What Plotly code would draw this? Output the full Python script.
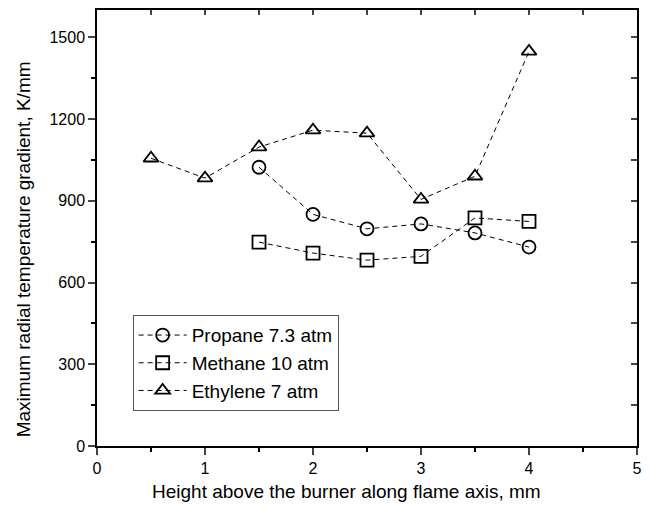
import plotly.graph_objects as go

propane_x = [1.5, 2, 2.5, 3, 3.5, 4]
propane_y = [1023, 850, 797, 815, 782, 730]
methane_x = [1.5, 2, 2.5, 3, 3.5, 4]
methane_y = [748, 708, 682, 696, 837, 824]
ethylene_x = [0.5, 1, 1.5, 2, 2.5, 3, 3.5, 4]
ethylene_y = [1056, 983, 1097, 1159, 1148, 905, 990, 1448]

names = ["Propane 7.3 atm", "Methane 10 atm", "Ethylene 7 atm"]
symbols = ["circle-open", "square-open", "triangle-up-open"]
x_title = "Height above the burner along flame axis, mm"
y_title = "Maximum radial temperature gradient, K/mm"

fig = go.Figure()
for xs, ys, nm, sym in zip([propane_x, methane_x, ethylene_x],
                           [propane_y, methane_y, ethylene_y], names, symbols):
    fig.add_trace(go.Scatter(
        x=xs, y=ys, name=nm, mode="lines+markers",
        line=dict(color="black", width=1, dash="5px,4px"),
        marker=dict(symbol=sym, size=13, color="black", line=dict(color="black", width=1.8)),
    ))

# invisible trace for mirrored axes
fig.add_trace(go.Scatter(x=[0], y=[0], xaxis="x2", yaxis="y2", showlegend=False,
                         mode="markers", marker=dict(opacity=0), hoverinfo="skip"))

font = "Liberation Sans, Arial, sans-serif"
fig.update_layout(
    width=652, height=511,
    margin=dict(l=97, r=12, t=10, b=65),
    paper_bgcolor="white", plot_bgcolor="white",
    font=dict(family=font, size=16, color="black"),
    xaxis=dict(range=[0, 5], dtick=1, ticks="outside", ticklen=7, tickwidth=1.5,
               showline=True, linecolor="black", linewidth=1.5, showgrid=False, zeroline=False,
               minor=dict(dtick=0.5, ticks="outside", ticklen=4, tickwidth=1.5, tickcolor="black"),
               tickfont=dict(size=16)),
    yaxis=dict(range=[0, 1600], tickvals=[0, 300, 600, 900, 1200, 1500], ticks="outside", ticklen=7, tickwidth=1.5,
               showline=True, linecolor="black", linewidth=1.5, showgrid=False, zeroline=False,
               minor=dict(tickvals=[150, 450, 750, 1050, 1350], ticks="outside", ticklen=4, tickwidth=1.5, tickcolor="black"),
               tickfont=dict(size=16)),
    xaxis2=dict(range=[0, 5], overlaying="x", side="top", dtick=0.5, ticks="inside", ticklen=5, tickwidth=1.5,
                showticklabels=False, showline=True, linecolor="black", linewidth=1.5, showgrid=False, zeroline=False),
    yaxis2=dict(range=[0, 1600], overlaying="y", side="right", tickvals=[150, 300, 450, 600, 750, 900, 1050, 1200, 1350, 1500],
                ticks="inside", ticklen=6, tickwidth=1.5,
                showticklabels=False, showline=True, linecolor="black", linewidth=1.5, showgrid=False, zeroline=False),
    legend=dict(x=0.066, y=0.300, xanchor="left", yanchor="top", bordercolor="#555", borderwidth=1,
                bgcolor="white", font=dict(size=19), itemwidth=48, tracegroupgap=0),
    showlegend=True,
    annotations=[
        dict(text=x_title, xref="paper", yref="paper", x=0.462, y=-0.105, xanchor="center", yanchor="middle",
             showarrow=False, font=dict(size=19)),
        dict(text=y_title, xref="paper", yref="paper", x=-0.136, y=0.45, xanchor="center", yanchor="middle",
             textangle=-90, showarrow=False, font=dict(size=19)),
    ],
)

fig.write_html("out.html")
